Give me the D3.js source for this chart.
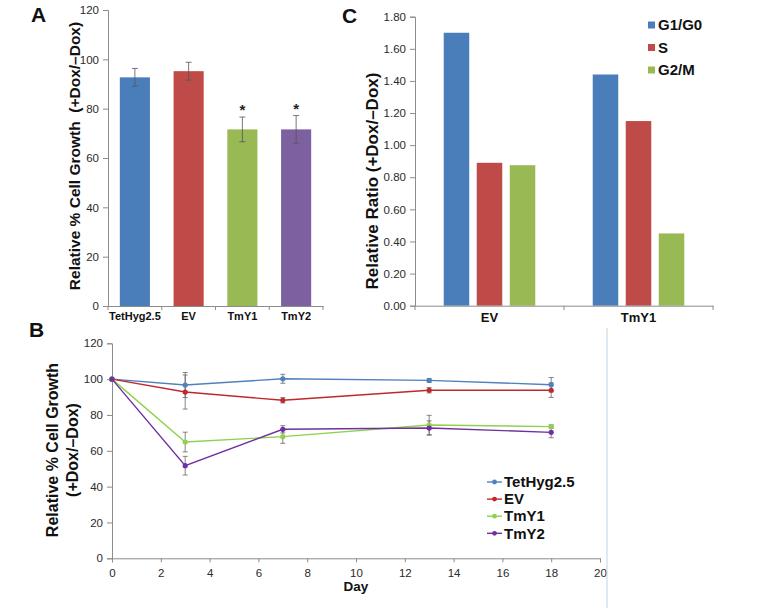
<!DOCTYPE html>
<html><head><meta charset="utf-8">
<script src="https://cdn.jsdelivr.net/npm/d3@7"></script>
<style>
body{margin:0;background:#fff;}
text{font-family:"Liberation Sans",Arial,sans-serif;}
</style></head>
<body><svg id="c" width="784" height="608"></svg>
<script>
// ---- Panel A data ----
const aCategories = ["TetHyg2.5","EV","TmY1","TmY2"];
const aValues = [92.7, 95.2, 71.6, 71.6];
const aErrors = [3.6, 3.6, 5.0, 5.6];
const aSignif = [false, false, true, true];
const aColors = ["#4a7ebb","#be4b48","#98b954","#7d60a0"];
const aTicks = [0,20,40,60,80,100,120];

// ---- Panel C data ----
const cGroups = ["EV","TmY1"];
const cSeries = ["G1/G0","S","G2/M"];
const cG1 = [1.70, 1.44];
const cS = [0.89, 1.15];
const cG2M = [0.875, 0.45];
const cColors = ["#4a7ebb","#be4b48","#98b954"];
const cTicks = [0,0.2,0.4,0.6,0.8,1.0,1.2,1.4,1.6,1.8];

// ---- Panel B data ----
const bDays = [0,3,7,13,18];
const bSeries = ["TetHyg2.5","EV","TmY1","TmY2"];
const bTet = [100, 96.7, 100.2, 99.3, 96.9];
const bTetErr = [0, 7.0, 2.5, 1.0, 4.0];
const bEV = [100, 92.8, 88.2, 93.8, 93.8];
const bEVErr = [0, 9.5, 1.5, 1.5, 4.0];
const bTmY1 = [100, 64.9, 67.9, 74.4, 73.5];
const bTmY1Err = [0, 5.5, 3.7, 5.4, 1.0];
const bTmY2 = [100, 51.7, 72.0, 72.7, 70.3];
const bTmY2Err = [0, 5.2, 2.0, 4.0, 3.0];
const bColors = ["#4f81bd","#c0282d","#8fd14f","#7030a0"];
const bXTicks = [0,2,4,6,8,10,12,14,16,18,20];
const bYTicks = [0,20,40,60,80,100,120];

const svg = d3.select("#c");
const axisColor = "#8c8c8c";
const tickText = "#2a2a2a";

function styleAxis(g){
  g.select(".domain").attr("stroke", axisColor);
  g.selectAll(".tick line").attr("stroke", axisColor);
  g.selectAll(".tick text").attr("fill", tickText).style("font-size","11.5px");
}

// ================= Panel A =================
{
  const x = d3.scaleBand().domain(aCategories).range([108,323]).paddingInner(0.44).paddingOuter(0.22);
  const y = d3.scaleLinear().domain([0,120]).range([306,10]);
  const g = svg.append("g");
  const ya = g.append("g").attr("transform","translate(108,0)")
    .call(d3.axisLeft(y).tickValues(aTicks).tickSize(5).tickPadding(4));
  styleAxis(ya);
  g.selectAll("rect.a").data(aCategories).join("rect")
    .attr("x", d=>x(d)).attr("width", x.bandwidth())
    .attr("y", (d,i)=>y(aValues[i])).attr("height",(d,i)=>y(0)-y(aValues[i]))
    .attr("fill",(d,i)=>aColors[i]);
  aCategories.forEach((c,i)=>{
    const cx = x(c)+x.bandwidth()/2;
    const eg = g.append("g").attr("stroke","#555").attr("stroke-width",0.8);
    eg.append("line").attr("x1",cx).attr("x2",cx).attr("y1",y(aValues[i]+aErrors[i])).attr("y2",y(aValues[i]-aErrors[i]));
    eg.append("line").attr("x1",cx-3).attr("x2",cx+3).attr("y1",y(aValues[i]+aErrors[i])).attr("y2",y(aValues[i]+aErrors[i]));
    eg.append("line").attr("x1",cx-3).attr("x2",cx+3).attr("y1",y(aValues[i]-aErrors[i])).attr("y2",y(aValues[i]-aErrors[i]));
    if(aSignif[i]){
      g.append("text").attr("x",cx).attr("y",y(aValues[i]+aErrors[i])-2).attr("text-anchor","middle")
        .style("font-size","15px").style("font-weight","bold").attr("fill","#222").text("*");
    }
  });
  const xa = g.append("g").attr("transform","translate(0,306)")
    .call(d3.axisBottom(x).tickSize(0).tickPadding(6));
  xa.select(".domain").attr("stroke",axisColor);
  xa.selectAll(".tick text").attr("fill","#111").style("font-size","11px").style("font-weight","bold");
  const bounds = d3.range(aCategories.length+1).map(i=>108 + i*(323-108)/aCategories.length);
  g.selectAll("line.bt").data(bounds).join("line").attr("x1",d=>d).attr("x2",d=>d).attr("y1",306).attr("y2",310).attr("stroke",axisColor);
  g.append("text").attr("transform","translate(80,156) rotate(-90)").attr("text-anchor","middle")
    .style("font-size","15.5px").style("font-weight","bold").style("white-space","pre").attr("fill","#111")
    .text("Relative % Cell Growth  (+Dox/\u2013Dox)");
  g.append("text").attr("x",31).attr("y",22).style("font-size","21px").style("font-weight","bold").attr("fill","#111").text("A");
}

// ================= Panel C =================
{
  const x0 = d3.scaleBand().domain(cGroups).range([415,713]).padding(0);
  const x1 = d3.scaleBand().domain(cSeries).range([0,x0.bandwidth()]).paddingInner(0.227).paddingOuter(0.87);
  const y = d3.scaleLinear().domain([0,1.8]).range([305.7,16.7]);
  const g = svg.append("g");
  const ya = g.append("g").attr("transform","translate(415,0)")
    .call(d3.axisLeft(y).tickValues(cTicks).tickFormat(d3.format(".2f")).tickSize(5).tickPadding(4));
  styleAxis(ya);
  const vals = [cG1, cS, cG2M];
  cGroups.forEach((grp,gi)=>{
    cSeries.forEach((s,si)=>{
      g.append("rect").attr("x", x0(grp)+x1(s)).attr("width", x1.bandwidth())
        .attr("y", y(vals[si][gi])).attr("height", y(0)-y(vals[si][gi])).attr("fill", cColors[si]);
    });
  });
  const xa = g.append("g").attr("transform","translate(0,305.7)")
    .call(d3.axisBottom(x0).tickSize(0).tickPadding(7));
  xa.select(".domain").attr("stroke",axisColor);
  xa.selectAll(".tick text").attr("fill","#111").style("font-size","13px").style("font-weight","bold");
  const bounds = [415, 415+x0.bandwidth(), 713];
  g.selectAll("line.bt").data(bounds).join("line").attr("x1",d=>d).attr("x2",d=>d).attr("y1",305.7).attr("y2",310).attr("stroke",axisColor);
  g.append("text").attr("transform","translate(378,181) rotate(-90)").attr("text-anchor","middle")
    .style("font-size","17px").style("font-weight","bold").attr("fill","#111")
    .text("Relative Ratio (+Dox/\u2013Dox)");
  g.append("text").attr("x",342).attr("y",23).style("font-size","21px").style("font-weight","bold").attr("fill","#111").text("C");
  const lg = g.append("g");
  cSeries.forEach((s,i)=>{
    const yy = 25 + i*22.5;
    lg.append("rect").attr("x",648).attr("y",yy-3.5).attr("width",7).attr("height",7).attr("fill",cColors[i]);
    lg.append("text").attr("x",658).attr("y",yy).attr("dy","0.35em").style("font-size","15px").style("font-weight","bold").attr("fill","#111").text(s);
  });
}

// ================= Panel B =================
{
  const x = d3.scaleLinear().domain([0,20]).range([112,600]);
  const y = d3.scaleLinear().domain([0,120]).range([558.3,343.3]);
  const g = svg.append("g");
  const ya = g.append("g").attr("transform","translate(112,0)")
    .call(d3.axisLeft(y).tickValues(bYTicks).tickSize(5).tickPadding(4));
  styleAxis(ya);
  const xa = g.append("g").attr("transform","translate(0,558.3)")
    .call(d3.axisBottom(x).tickValues(bXTicks).tickSize(4).tickPadding(7));
  styleAxis(xa);
  const vals = [bTet,bEV,bTmY1,bTmY2];
  const errs = [bTetErr,bEVErr,bTmY1Err,bTmY2Err];
  const line = d3.line().x((d,i)=>x(bDays[i])).y(d=>y(d));
  vals.forEach((v,si)=>{
    bDays.forEach((d,i)=>{
      const e = errs[si][i]; if(!e) return;
      const cx = x(d);
      const eg = g.append("g").attr("stroke","#666").attr("stroke-width",0.8);
      eg.append("line").attr("x1",cx).attr("x2",cx).attr("y1",y(v[i]+e)).attr("y2",y(v[i]-e));
      eg.append("line").attr("x1",cx-2.5).attr("x2",cx+2.5).attr("y1",y(v[i]+e)).attr("y2",y(v[i]+e));
      eg.append("line").attr("x1",cx-2.5).attr("x2",cx+2.5).attr("y1",y(v[i]-e)).attr("y2",y(v[i]-e));
    });
  });
  vals.forEach((v,si)=>{
    g.append("path").datum(v).attr("d",line).attr("fill","none").attr("stroke",bColors[si]).attr("stroke-width",1.4);
    g.selectAll(null).data(v).join("circle").attr("cx",(d,i)=>x(bDays[i])).attr("cy",d=>y(d)).attr("r",2.6).attr("fill",bColors[si]);
  });
  g.append("text").attr("transform","translate(58,450) rotate(-90)").attr("text-anchor","middle")
    .style("font-size","16px").style("font-weight","bold").attr("fill","#111").text("Relative % Cell Growth");
  g.append("text").attr("transform","translate(78,450) rotate(-90)").attr("text-anchor","middle")
    .style("font-size","16px").style("font-weight","bold").attr("fill","#111").text("(+Dox/\u2013Dox)");
  g.append("text").attr("x",x(10)).attr("y",591).attr("text-anchor","middle")
    .style("font-size","13.5px").style("font-weight","bold").attr("fill","#111").text("Day");
  g.append("text").attr("x",29).attr("y",337).style("font-size","21px").style("font-weight","bold").attr("fill","#111").text("B");
  bSeries.forEach((s,i)=>{
    const yy = 482 + i*17.1;
    g.append("line").attr("x1",487).attr("x2",502).attr("y1",yy).attr("y2",yy).attr("stroke",bColors[i]).attr("stroke-width",1.4);
    g.append("circle").attr("cx",494.5).attr("cy",yy).attr("r",2.4).attr("fill",bColors[i]);
    g.append("text").attr("x",504).attr("y",yy).attr("dy","0.35em").style("font-size","15px").style("font-weight","bold").attr("fill","#111").text(s);
  });
  g.append("line").attr("x1",607).attr("x2",607).attr("y1",328).attr("y2",608).attr("stroke","#c3d3e3").attr("stroke-width",1);
}
</script></body></html>
